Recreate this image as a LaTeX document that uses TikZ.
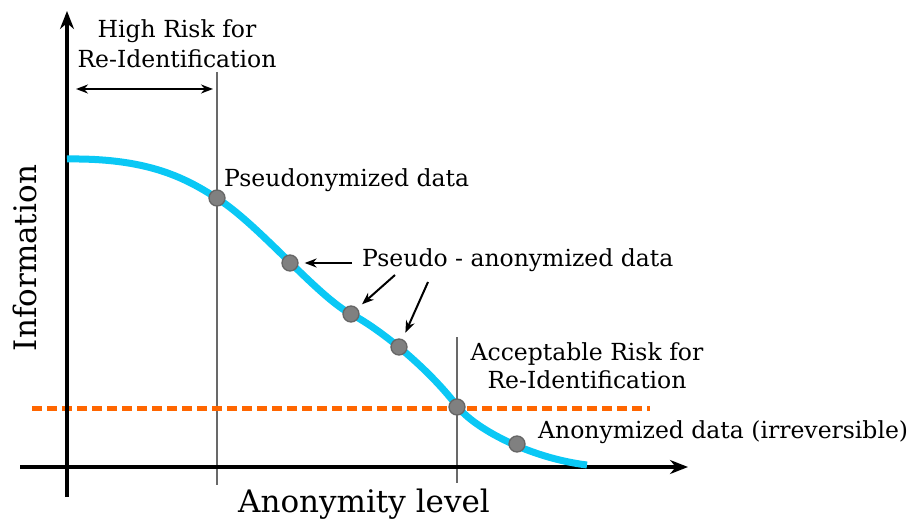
\documentclass[tikz,border=0pt]{standalone}
\usepackage{fontspec}
\setmainfont{DejaVu Serif}
\usetikzlibrary{arrows.meta}
\definecolor{curveblue}{RGB}{10,200,245}
\definecolor{riskorange}{RGB}{255,102,0}
\definecolor{markgray}{RGB}{128,128,128}
\definecolor{guidegray}{RGB}{105,105,105}
\begin{document}
\begin{tikzpicture}[x=1pt,y=-1pt,
  axis/.style={line width=3.5pt,-{Stealth[length=18pt,width=14pt]}},
  guide/.style={draw=guidegray,line width=2pt},
  pointer/.style={line width=2pt,-{Stealth[length=12pt,width=9pt]}},
  datapt/.style={circle,fill=markgray,draw=black!60,line width=1.3pt,minimum size=16pt,inner sep=0pt},
  lbl/.style={font=\fontsize{23.5}{28}\selectfont,inner sep=0pt},
  biglbl/.style={font=\fontsize{31}{37}\selectfont,inner sep=0pt},
  ]
\useasboundingbox (0,0) rectangle (910,521);

% vertical guide lines
\coordinate (g1top) at (217,72);
\coordinate (g1bot) at (217,485);
\coordinate (g2top) at (457,337);
\coordinate (g2bot) at (457,483);
\draw[guide] (g1top) -- (g1bot);
\draw[guide] (g2top) -- (g2bot);

% acceptable risk threshold
\coordinate (thrL) at (32,408);
\coordinate (thrR) at (650,408);
\draw[riskorange,line width=5pt,dash pattern=on 10pt off 5pt] (thrL) -- (thrR);

% axes
\coordinate (xstart) at (20,467);
\coordinate (xend) at (688,467);
\coordinate (ystart) at (67,497);
\coordinate (yend) at (67,11);
\draw[axis] (xstart) -- (xend);
\draw[axis] (ystart) -- (yend);

% information vs anonymity curve
\coordinate (c0) at (67,159);
\coordinate (c1) at (218,199);
\coordinate (c2) at (351,314);
\coordinate (c3) at (457,406);
\coordinate (c4) at (587,465);
\draw[curveblue,line width=7pt,line cap=butt]
  (c0) .. controls (145,158) and (183,176) .. (c1)
       .. controls (258,224) and (318,297) .. (c2)
       .. controls (380,329) and (428,368) .. (c3)
       .. controls (475,429) and (530,458) .. (c4);

% data points on the curve
\node[datapt] (p1) at (217,198) {};
\node[datapt] (p2) at (290,263) {};
\node[datapt] (p3) at (351,314) {};
\node[datapt] (p4) at (399,347) {};
\node[datapt] (p5) at (457,407) {};
\node[datapt] (p6) at (517,444) {};

% high risk span
\coordinate (spanL) at (76,89);
\coordinate (spanR) at (213,89);
\draw[line width=2pt,{Stealth[length=12pt,width=9pt]}-{Stealth[length=12pt,width=9pt]}] (spanL) -- (spanR);
\node[lbl,anchor=base] (hr1) at (177,38) {High Risk for};
\node[lbl,anchor=base] (hr2) at (177,68) {Re-Identification};

% labels
\node[lbl,anchor=base west] (pseudo) at (224,187) {Pseudonymized data};
\node[lbl,anchor=base west] (pseudoanon) at (362,267) {Pseudo - anonymized data};
\node[lbl,anchor=base] (ac1) at (587,360) {Acceptable Risk for};
\node[lbl,anchor=base] (ac2) at (587,388) {Re-Identification};
\node[lbl,anchor=base west] (anon) at (538,438) {Anonymized data (irreversible)};

% pointers to the pseudo-anonymized points
\coordinate (s2) at (352,263);
\coordinate (s3) at (395,275);
\coordinate (s4) at (428,282);
\draw[pointer,shorten >=6pt] (s2) -- (p2);
\draw[pointer,shorten >=6pt] (s3) -- (p3);
\draw[pointer,shorten >=7pt] (s4) -- (p4);

% axis titles
\node[biglbl,anchor=base] (xlab) at (364,512) {Anonymity level};
\node[biglbl,anchor=base,rotate=90] (ylab) at (36,258) {Information};
\end{tikzpicture}
\end{document}
